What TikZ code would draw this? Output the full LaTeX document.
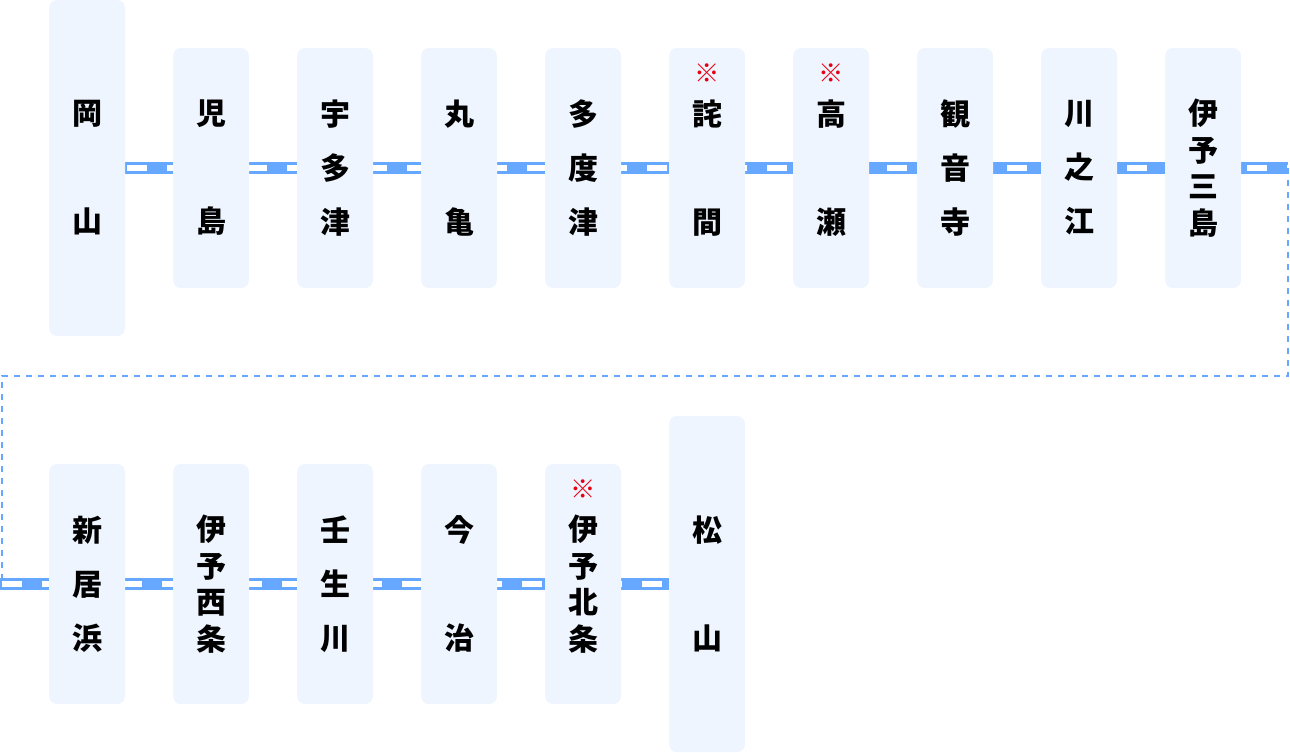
\documentclass[tikz,border=0pt]{standalone}
\usepackage{fontspec}
\newfontfamily\jp{Noto Sans CJK JP}
\usetikzlibrary{backgrounds}
\definecolor{trackblue}{HTML}{66A8FF}
\definecolor{boxfill}{HTML}{EEF5FF}
\definecolor{komered}{HTML}{E60012}
\newcommand\topstrut{\rule{0pt}{34pt}}
\tikzset{
stn/.style={fill=boxfill, rounded corners=6pt, minimum width=57pt, minimum height=180pt, inner sep=0pt, align=center,
  execute at begin node=\topstrut},
big/.style={minimum height=252pt},
two/.style={font=\jp\bfseries\fontsize{22.5}{81}\selectfont},
three/.style={font=\jp\bfseries\fontsize{22.5}{40.5}\selectfont},
four/.style={font=\jp\bfseries\fontsize{22.5}{27.4}\selectfont},
kome/.style={text=komered, font=\jp\fontsize{19}{20}\selectfont, inner sep=0pt},
band/.style={trackblue, line width=9pt},
bandin/.style={white, line width=4.5pt, dash pattern=on 15pt off 15pt},
link/.style={trackblue, line width=1.5pt, dash pattern=on 4.5pt off 4.5pt}
}
\begin{document}
\begin{tikzpicture}[x=0.75pt, y=-0.75pt]
\useasboundingbox (0,0) rectangle (1290,753);
% upper row
\node[stn, big, two] (okayama) at (87,168) {岡\\山};
\node[stn, two] (kojima) at (211,168) {児\\島};
\node[stn, three] (utazu) at (335,168) {宇\\多\\津};
\node[stn, two] (marugame) at (459,168) {丸\\亀};
\node[stn, three] (tadotsu) at (583,168) {多\\度\\津};
\node[stn, two] (takuma) at (707,168) {詫\\間};
\node[stn, two] (takase) at (831,168) {高\\瀬};
\node[stn, three] (kanonji) at (955,168) {観\\音\\寺};
\node[stn, three] (kawanoe) at (1079,168) {川\\之\\江};
\node[stn, four] (iyomishima) at (1203,168) {伊\\予\\三\\島};
% lower row
\node[stn, three] (niihama) at (87,584) {新\\居\\浜};
\node[stn, four] (iyosaijo) at (211,584) {伊\\予\\西\\条};
\node[stn, three] (nyugawa) at (335,584) {壬\\生\\川};
\node[stn, two] (imabari) at (459,584) {今\\治};
\node[stn, four] (iyohojo) at (583,584) {伊\\予\\北\\条};
\node[stn, big, two] (matsuyama) at (707,584) {松\\山};
% marks
\node[kome] (takumanote) at ([yshift=-18.75pt]takuma.north) {※};
\node[kome] (takasenote) at ([yshift=-18.75pt]takase.north) {※};
\node[kome] (iyohojonote) at ([yshift=-18.75pt]iyohojo.north) {※};
% track
\begin{scope}[on background layer]
\coordinate (r1) at (1288,168);
\coordinate (r2) at (1288,376);
\coordinate (l2) at (2,376);
\coordinate (l3) at (2,584);
\coordinate (l0) at (0,584);
\draw[band] (okayama.east) -- (r1);
\draw[bandin] ([xshift=1.5pt]okayama.east) -- (r1);
\draw[link] (r1) -- (r2) -- (l2) -- (l3);
\draw[band] (l0) -- (matsuyama.west);
\draw[bandin] (l3) -- (matsuyama.west);
\end{scope}
\end{tikzpicture}
\end{document}
